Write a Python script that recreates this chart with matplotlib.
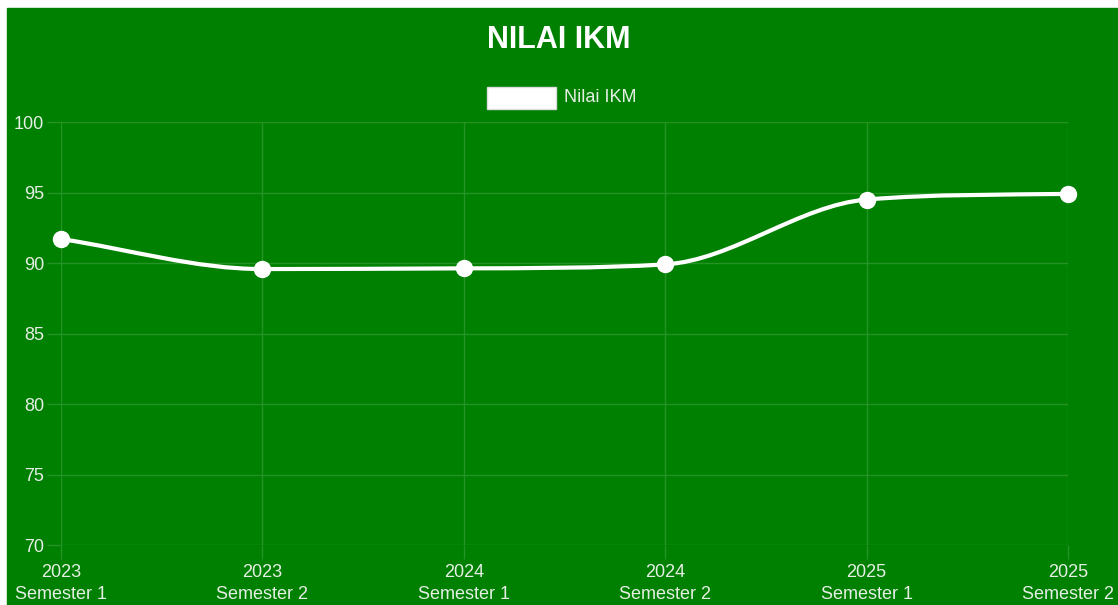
import numpy as np
import matplotlib.pyplot as plt
from matplotlib.path import Path
from matplotlib.patches import PathPatch, Rectangle

years = ['2023', '2023', '2024', '2024', '2025', '2025']
semesters = ['Semester 1', 'Semester 2', 'Semester 1', 'Semester 2', 'Semester 1', 'Semester 2']
nilai_ikm = [91.7, 89.57, 89.62, 89.9, 94.5, 94.9]

GREEN = '#008000'
GRID = '#269326'
TXT = '#e6eee6'


def monotone_path(ax, xs, ys):
    # monotone cubic (chart.js style), control points worked out in pixel space
    pts = ax.transData.transform(np.column_stack([xs, ys]))
    px, py = pts[:, 0], pts[:, 1]
    n = len(pts)
    delta = np.diff(py) / np.diff(px)
    m = np.zeros(n)
    m[0], m[-1] = delta[0], delta[-1]
    for i in range(1, n - 1):
        if np.sign(delta[i - 1]) != np.sign(delta[i]) or delta[i - 1] == 0:
            m[i] = 0
        else:
            m[i] = (delta[i - 1] + delta[i]) / 2
    for i in range(n - 1):
        if delta[i] == 0:
            m[i] = m[i + 1] = 0
            continue
        a, b = m[i] / delta[i], m[i + 1] / delta[i]
        mag = a * a + b * b
        if mag > 9:
            tau = 3 / np.sqrt(mag)
            m[i] = a * tau * delta[i]
            m[i + 1] = b * tau * delta[i]
    verts = [pts[0]]
    codes = [Path.MOVETO]
    for i in range(n - 1):
        dx = (px[i + 1] - px[i]) / 3
        verts += [(px[i] + dx, py[i] + m[i] * dx),
                  (px[i + 1] - dx, py[i + 1] - m[i + 1] * dx),
                  pts[i + 1]]
        codes += [Path.CURVE4] * 3
    verts = ax.transData.inverted().transform(np.array(verts))
    return Path(verts, codes)


def main():
    W, H = 1118, 605
    fig = plt.figure(figsize=(W / 100, H / 100), dpi=100)
    fig.patch.set_facecolor('white')
    fig.patches.append(Rectangle((7 / W, 0), 1 - 7 / W, 1 - 8 / H,
                                 transform=fig.transFigure, color=GREEN, zorder=-1))

    left, right, top, bottom = 61, 1068, 122, 545
    ax = fig.add_axes([left / W, 1 - bottom / H, (right - left) / W, (bottom - top) / H])
    ax.set_facecolor(GREEN)
    for s in ax.spines.values():
        s.set_visible(False)

    x = np.arange(len(nilai_ikm))
    ax.set_xlim(0, len(x) - 1)
    ax.set_ylim(70, 100)
    ax.set_yticks(np.arange(70, 101, 5))
    ax.set_xticks(x)
    ax.set_xticklabels([f'{y}\n{s}' for y, s in zip(years, semesters)], linespacing=1.35)
    ax.grid(True, color=GRID, linewidth=1)
    ax.set_axisbelow(True)
    ax.tick_params(colors=GRID, labelcolor=TXT, labelsize=13, length=10, width=1, pad=2)
    ax.tick_params(axis='x', pad=4)
    for lbl in ax.get_xticklabels() + ax.get_yticklabels():
        lbl.set_family('Liberation Sans')

    path = monotone_path(ax, x, nilai_ikm)
    ax.add_patch(PathPatch(path, facecolor='none', edgecolor='white', lw=3, zorder=3, clip_on=False))
    ax.plot(x, nilai_ikm, 'o', color='white', ms=11.5, zorder=4, clip_on=False)

    fig.text(0.5, 1 - 40 / H, 'NILAI IKM', ha='center', va='center', color='white',
             fontsize=22, fontweight='bold', family='Liberation Sans')
    fig.patches.append(Rectangle((487 / W, 1 - 109 / H), 69 / W, 22 / H,
                                 transform=fig.transFigure, facecolor='white', edgecolor='#dddddd'))
    fig.text(564 / W, 1 - 97 / H, 'Nilai IKM', ha='left', va='center', color=TXT,
             fontsize=13, family='Liberation Sans')

    fig.savefig('out.png', dpi=100)


if __name__ == '__main__':
    main()
